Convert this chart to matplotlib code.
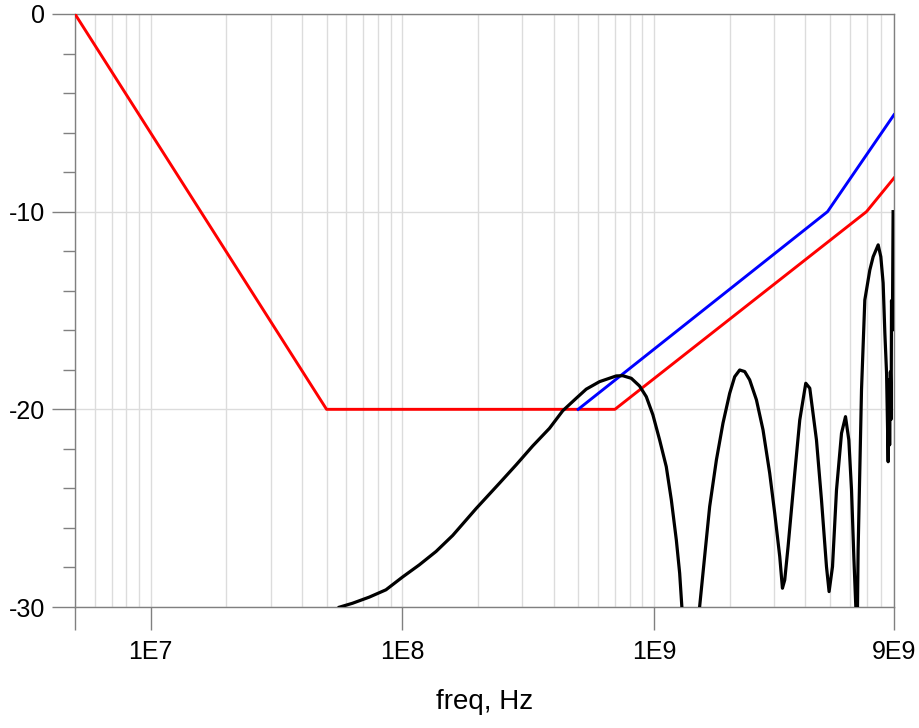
import matplotlib
matplotlib.use("Agg")
import matplotlib.pyplot as plt
from matplotlib.ticker import FixedLocator, LogLocator, NullFormatter

plt.rcParams["font.family"] = ["Liberation Sans", "DejaVu Sans"]

# mask lines (dB vs Hz)
red_freq = [5e6, 5e7, 7e8, 7e9, 9e9]
red_db = [0, -20, -20, -10, -8.3]

blue_freq = [5e8, 4.9e9, 9e9]
blue_db = [-20, -10, -5.1]

black_freq = [5.62e7, 6.34e7, 7.39e7, 8.61e7, 1.003e8, 1.168e8, 1.362e8, 1.586e8,
              1.965e8, 2.432e8, 2.834e8, 3.30e8, 3.846e8, 4.344e8, 4.913e8, 5.383e8,
              6.08e8, 7.087e8, 7.526e8, 8.131e8, 8.772e8, 9.328e8, 9.91e8, 1.054e9,
              1.12e9, 1.173e9, 1.228e9, 1.266e9, 1.292e9, 1.31e9,
              1.48e9, 1.52e9, 1.591e9, 1.666e9, 1.772e9, 1.882e9, 2.001e9, 2.095e9,
              2.193e9, 2.296e9, 2.403e9, 2.556e9, 2.715e9, 2.886e9, 3.022e9, 3.164e9,
              3.243e9, 3.312e9, 3.415e9, 3.63e9, 3.80e9, 4.015e9, 4.165e9, 4.428e9,
              4.636e9, 4.853e9, 4.97e9, 5.128e9, 5.319e9, 5.569e9, 5.776e9, 5.954e9,
              6.103e9, 6.233e9, 6.347e9, 6.42e9, 6.483e9, 6.687e9, 6.892e9, 7.216e9,
              7.44e9, 7.789e9, 7.98e9, 8.151e9, 8.28e9, 8.41e9, 8.535e9, 8.6e9,
              8.65e9, 8.71e9, 8.77e9, 8.8e9, 8.87e9, 8.93e9]
black_db = [-30.01, -29.81, -29.50, -29.13, -28.48, -27.87, -27.19, -26.38,
            -25.02, -23.74, -22.81, -21.85, -20.96, -20.07, -19.44, -18.98,
            -18.60, -18.31, -18.30, -18.43, -18.82, -19.36, -20.28, -21.55,
            -22.90, -24.58, -26.61, -28.29, -30.01, -32.5,
            -32.5, -29.98, -27.45, -24.92, -22.56, -20.70, -19.19, -18.35,
            -18.01, -18.09, -18.51, -19.52, -21.04, -23.23, -25.26, -27.45,
            -29.05, -28.63, -26.94, -23.23, -20.54, -18.68, -18.93, -21.55,
            -24.58, -27.96, -29.22, -27.96, -24.08, -21.21, -20.37, -21.55,
            -24.08, -27.45, -29.98, -32.0, -27.11, -19.02, -14.47, -12.95,
            -12.28, -11.68, -12.28, -13.61, -16.14, -18.16, -22.65, -18.5,
            -21.8, -18.1, -20.5, -14.5, -16.0, -10.0]

x_ticks = [5e6, 1e7, 1e8, 1e9, 9e9]
x_labels = ["", "1E7", "1E8", "1E9", "9E9"]
y_ticks = [0, -10, -20, -30]

fig = plt.figure(figsize=(9.2, 7.28), dpi=100)
ax = fig.add_axes([0.0815, 0.1662, 0.8902, 0.8146])

ax.plot(red_freq, red_db, color="#ff0000", lw=2.1, zorder=3)
ax.plot(blue_freq, blue_db, color="#0000ff", lw=2.1, zorder=3)
ax.plot(black_freq, black_db, color="black", lw=2.3, zorder=4,
        solid_joinstyle="round")

ax.set_xscale("log")
ax.set_xlim(5e6, 9e9)
ax.set_ylim(-30, 0)

ax.xaxis.set_major_locator(FixedLocator(x_ticks))
ax.set_xticklabels(x_labels)
ax.xaxis.set_minor_locator(LogLocator(base=10, subs=[2, 3, 4, 5, 6, 7, 8, 9], numticks=20))
ax.xaxis.set_minor_formatter(NullFormatter())
ax.set_yticks(y_ticks)
ax.set_yticklabels(["0", "-10", "-20", "-30"])
ax.set_yticks(range(-30, 1, 2), minor=True)

ax.grid(True, which="both", axis="x", color="#dcdcdc", lw=1)
ax.grid(True, which="major", axis="y", color="#dcdcdc", lw=1)
ax.set_axisbelow(True)

ax.tick_params(axis="both", which="major", length=16.5, width=1, color="#808080",
               labelsize=18, pad=5)
ax.tick_params(axis="x", which="minor", length=0)
ax.tick_params(axis="y", which="minor", length=8.5, width=1, color="#808080")
ax.tick_params(axis="x", which="major", pad=7)

for s in ax.spines.values():
    s.set_color("#808080")
    s.set_linewidth(1)

ax.set_xlabel("freq, Hz", fontsize=20, labelpad=18)

plt.savefig("out.png", dpi=100)
